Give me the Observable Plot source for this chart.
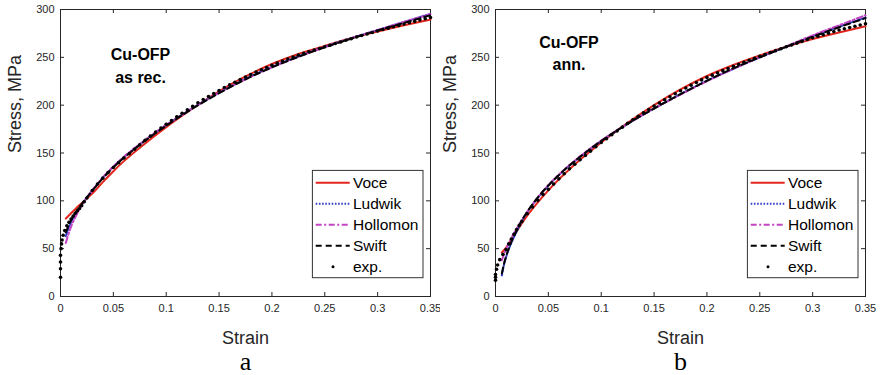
<!DOCTYPE html>
<html><head><meta charset="utf-8">
<script src="https://cdn.jsdelivr.net/npm/d3@7"></script>
<script src="https://cdn.jsdelivr.net/npm/@observablehq/plot@0.6"></script>
<style>
body{margin:0;background:#fff;}
#wrap{display:flex;width:880px;height:375px;}
</style></head><body><div id="wrap"></div>
<script>
// ---------- ticks & labels ----------
const xTicks = [0, 0.05, 0.1, 0.15, 0.2, 0.25, 0.3, 0.35];
const xTickLabels = ["0", "0.05", "0.1", "0.15", "0.2", "0.25", "0.3", "0.35"];
const yTicks = [0, 50, 100, 150, 200, 250, 300];
const yTickLabels = ["0", "50", "100", "150", "200", "250", "300"];
const seriesNames = ["Voce", "Ludwik", "Hollomon", "Swift", "exp."];
const panelLetters = ["a", "b"];
const panelTitles = ["Cu-OFP\nas rec.", "Cu-OFP\nann."];
const xLabel = "Strain";
const yLabel = "Stress, MPa";

// ---------- panel a (as received) ----------
const aExpStrain = [0,0,0,0,0.0005,0.001,0.0015,0.0025,0.004,0.006,0.008,0.01,0.012,0.014,0.016,0.018,0.02,0.0225,
  0.025,0.03,0.035,0.04,0.045,0.05,0.055,0.06,0.065,0.07,0.075,0.08,0.085,0.09,0.095,0.1,
  0.105,0.11,0.115,0.12,0.125,0.13,0.135,0.14,0.145,0.15,0.155,0.16,0.165,0.17,0.175,0.18,0.185,0.19,0.195,0.2,
  0.205,0.21,0.215,0.22,0.225,0.23,0.235,0.24,0.245,0.25,0.255,0.26,0.265,0.27,0.275,0.28,0.285,0.29,0.295,0.3,
  0.305,0.31,0.315,0.32,0.325,0.33,0.335,0.34,0.345,0.35];
const aExpStress = [20,29,36,43,50,55,59,64,69,74,77.5,81,84,87,89.5,92,94.8,99,
  103,110.8,117.5,123.7,129.5,134.9,139.9,144.7,149.2,153.9,158.7,163.3,167.6,171.9,176.1,180.1,
  184,187.8,191.5,195.1,198.7,202.6,205.9,209.1,212.1,215.4,218.4,221.2,224,226.8,229.5,232.1,234.6,237,239.4,241.7,
  243.9,246.1,248.2,250.3,252.3,254.1,255.9,257.6,259.3,261,262.7,264.4,266.1,267.8,269.5,271.2,272.8,274.4,276,277.6,
  279.1,280.5,282,283.4,284.8,286.2,287.6,289,290.3,291.6];
const aVoceStrain = [0.005,0.01,0.015,0.02,0.03,0.04,0.05,0.06,0.075,0.1,0.125,0.15,0.175,0.2,0.225,0.25,0.275,0.3,0.325,0.35];
const aVoceStress = [81.5,87,92.5,97.5,107.5,119.5,131,141.5,155.5,177,196.5,214.5,230,243,253.5,262,270,277,283.5,289.5];
const aLudwikStrain = [0.005,0.0075,0.01,0.015,0.02,0.03,0.04,0.05,0.06,0.075,0.1,0.125,0.15,0.175,0.2,0.225,0.25,0.275,0.3,0.325,0.35];
const aLudwikStress = [63,71,77.5,87.5,96,110.5,124,135.5,145.5,159,179,197,213,227.5,240,251,261,270,278.5,287,295.5];
const aHollomonStrain = [0.005,0.0075,0.01,0.015,0.02,0.03,0.04,0.05,0.06,0.075,0.1,0.125,0.15,0.175,0.2,0.225,0.25,0.275,0.3,0.325,0.35];
const aHollomonStress = [56,65,73,85,95,111,124.5,136,146,159.5,179.5,197,213,227,239.5,250.5,260.5,270,278.5,287,295];
const aSwiftStrain = [0.005,0.0075,0.01,0.015,0.02,0.03,0.04,0.05,0.06,0.075,0.1,0.125,0.15,0.175,0.2,0.225,0.25,0.275,0.3,0.325,0.35];
const aSwiftStress = [67,74,80,89,96.5,110.5,123.5,135,145,158.5,178.5,196.5,212.5,227,239.5,250.5,260.5,269.5,278,286,294];

// ---------- panel b (annealed) ----------
const bExpStrain = [0,0,0,0.001,0.002,0.004,0.007,0.01,0.0125,0.015,0.0175,0.02,0.0225,
  0.025,0.03,0.035,0.04,0.045,0.05,0.055,0.06,0.065,0.07,0.075,0.08,0.085,0.09,0.095,0.1,
  0.105,0.11,0.115,0.12,0.125,0.13,0.135,0.14,0.145,0.15,0.155,0.16,0.165,0.17,0.175,0.18,0.185,0.19,0.195,0.2,
  0.205,0.21,0.215,0.22,0.225,0.23,0.235,0.24,0.245,0.25,0.255,0.26,0.265,0.27,0.275,0.28,0.285,0.29,0.295,0.3,
  0.305,0.31,0.315,0.32,0.325,0.33,0.335,0.34,0.345,0.35];
const bExpStress = [17,20,23,28.5,33,38.5,44,49,55,60,65,70,74.5,
  78.5,86.5,93.5,100.5,106.5,112,117.5,123,128.3,133.5,138.3,143,147.5,152,156.5,161,
  165,169,173,177,181,184.7,188.4,192,195.5,199,202.3,205.6,208.8,211.9,215,218,220.9,223.7,226.4,229,
  231.4,233.8,236.1,238.3,240.5,242.6,244.8,246.9,249,251,253,255,257,259,261,262.9,264.8,266.7,268.6,270.5,
  272.1,273.7,275.3,276.9,278.5,279.9,281.2,282.5,283.8,285];
const bVoceStrain = [0.006,0.01,0.015,0.02,0.025,0.03,0.04,0.05,0.06,0.07,0.08,0.09,0.1,0.125,0.15,0.175,0.2,0.225,0.25,0.275,0.3,0.325,0.35];
const bVoceStress = [46,51,59.5,68,76.5,84.5,98.5,111,122.5,133,143,152,161,181.5,200,216.5,230.5,242,252,261,269,276,282.5];
const bLudwikStrain = [0.006,0.008,0.01,0.015,0.02,0.025,0.03,0.04,0.05,0.06,0.07,0.08,0.09,0.1,0.125,0.15,0.175,0.2,0.225,0.25,0.275,0.3,0.325,0.35];
const bLudwikStress = [22,33,41,56,68,79,88,103,116,127,137,146,154.5,162.5,180.5,196.5,211.5,225.5,238,250,261,272,282,291.5];
const bHollomonStrain = [0.006,0.008,0.01,0.015,0.02,0.025,0.03,0.04,0.05,0.06,0.07,0.08,0.09,0.1,0.125,0.15,0.175,0.2,0.225,0.25,0.275,0.3,0.325,0.35];
const bHollomonStress = [38,44,49.5,61,71,80,88.5,103.5,116.5,127.5,137.5,146.5,155,163,180.5,196.5,211,225,238,250,261.5,273,283.5,294];
const bSwiftStrain = [0.006,0.008,0.01,0.015,0.02,0.025,0.03,0.04,0.05,0.06,0.07,0.08,0.09,0.1,0.125,0.15,0.175,0.2,0.225,0.25,0.275,0.3,0.325,0.35];
const bSwiftStress = [24,34,42,57,69,79.5,88.5,103.5,116,127,137,146,154.5,162.5,180.5,196.5,211.5,225.5,238.5,250,261,271.5,281.5,291];

// ---------- styles ----------
const lineStyles = {
  Voce: {stroke: "#e3261d", strokeWidth: 2},
  Ludwik: {stroke: "#2f3fc6", strokeWidth: 2, strokeDasharray: "1.6,1.6"},
  Hollomon: {stroke: "#c444c4", strokeWidth: 2, strokeDasharray: "6,2.5,2,2.5"},
  Swift: {stroke: "#000000", strokeWidth: 2, strokeDasharray: "6,4"}
};
const FONT = "'Liberation Sans', Arial, Helvetica, sans-serif";
const INK = "#262626";

function legendMark(cfg) {
  return () => {
    const R = cfg.width - cfg.mr, B = cfg.height - cfg.mb;
    const bx = R - 117.6, by = B - 125.6;
    const g = d3.create("svg:g").attr("font-family", FONT).attr("text-anchor", "start");
    g.append("rect").attr("x", bx).attr("y", by).attr("width", 110.6).attr("height", 107.3)
      .attr("fill", "white").attr("stroke", "#333").attr("stroke-width", 1);
    seriesNames.forEach((name, i) => {
      const yy = by + 12.3 + 21 * i;
      const st = lineStyles[name];
      if (st) {
        g.append("line").attr("x1", bx + 3.3).attr("x2", bx + 37.3).attr("y1", yy).attr("y2", yy)
          .attr("stroke", st.stroke).attr("stroke-width", st.strokeWidth)
          .attr("stroke-dasharray", st.strokeDasharray || null);
      } else {
        g.append("circle").attr("cx", bx + 20.6).attr("cy", yy).attr("r", 1.5).attr("fill", "#000");
      }
      g.append("text").attr("x", bx + 40.6).attr("y", yy).attr("dy", "0.35em")
        .attr("text-anchor", "start").attr("font-size", 15.5).attr("fill", "#000").text(name);
    });
    return g.node();
  };
}

function panel(cfg) {
  const innerH = cfg.height - cfg.mt - cfg.mb;
  const innerW = cfg.width - cfg.ml - cfg.mr;
  const fit = (sx, sy, name) => Plot.line(sx, {x: sx, y: sy, curve: "monotone-x", ...lineStyles[name]});
  return Plot.plot({
    width: cfg.width, height: cfg.height,
    marginTop: cfg.mt, marginBottom: cfg.mb, marginLeft: cfg.ml, marginRight: cfg.mr,
    style: {fontFamily: FONT, fontSize: "11px", color: INK, background: "white", overflow: "visible"},
    x: {domain: [0, 0.35]},
    y: {domain: [0, 300]},
    marks: [
      Plot.frame({stroke: INK, strokeWidth: 1}),
      Plot.ruleX(xTicks, {x: d => d, insetTop: innerH - 4, stroke: INK}),
      Plot.ruleX(xTicks, {x: d => d, insetBottom: innerH - 4, stroke: INK}),
      Plot.ruleY(yTicks, {y: d => d, insetRight: innerW - 4, stroke: INK}),
      Plot.ruleY(yTicks, {y: d => d, insetLeft: innerW - 4, stroke: INK}),
      Plot.axisX({ticks: xTicks, tickSize: 0, tickPadding: 8, label: null,
        tickFormat: d => xTickLabels[xTicks.indexOf(d)], fill: INK}),
      Plot.axisY({ticks: yTicks, tickSize: 0, tickPadding: 6, label: null,
        tickFormat: d => yTickLabels[yTicks.indexOf(d)], fill: INK}),
      fit(cfg.voce[0], cfg.voce[1], "Voce"),
      fit(cfg.ludwik[0], cfg.ludwik[1], "Ludwik"),
      fit(cfg.hollomon[0], cfg.hollomon[1], "Hollomon"),
      fit(cfg.swift[0], cfg.swift[1], "Swift"),
      Plot.dot(cfg.exp[0], {x: cfg.exp[0], y: cfg.exp[1], r: 1.8, fill: "#000", stroke: "none"}),
      Plot.text([cfg.title], {text: d => d, frameAnchor: "top-left", dx: cfg.titleDx, dy: cfg.titleDy,
        textAnchor: "middle", lineAnchor: "middle", lineHeight: 1.42, fontSize: 16, fontWeight: "bold", fill: "#000"}),
      Plot.text([xLabel], {text: d => d, frameAnchor: "bottom", dy: 47, lineAnchor: "bottom", fontSize: 18, fill: INK}),
      Plot.text([yLabel], {text: d => d, frameAnchor: "left", dx: -40, rotate: -90, lineAnchor: "bottom", fontSize: 18, fill: INK}),
      Plot.text([cfg.letter], {text: d => d, frameAnchor: "bottom", dy: 73.7, lineAnchor: "bottom",
        fontSize: 26, fontFamily: "'Liberation Serif', 'Times New Roman', serif", fill: "#000"}),
      legendMark(cfg)
    ]
  });
}

const wrap = document.getElementById("wrap");
wrap.appendChild(panel({
  width: 440, height: 375, mt: 9, mb: 79, ml: 60, mr: 10,
  voce: [aVoceStrain, aVoceStress], ludwik: [aLudwikStrain, aLudwikStress],
  hollomon: [aHollomonStrain, aHollomonStress], swift: [aSwiftStrain, aSwiftStress],
  exp: [aExpStrain, aExpStress], title: panelTitles[0], titleDx: 80, titleDy: 54.5, letter: panelLetters[0]
}));
wrap.appendChild(panel({
  width: 440, height: 375, mt: 9, mb: 79, ml: 55, mr: 15,
  voce: [bVoceStrain, bVoceStress], ludwik: [bLudwikStrain, bLudwikStress],
  hollomon: [bHollomonStrain, bHollomonStress], swift: [bSwiftStrain, bSwiftStress],
  exp: [bExpStrain, bExpStress], title: panelTitles[1], titleDx: 73.5, titleDy: 42.2, letter: panelLetters[1]
}));
</script></body></html>
